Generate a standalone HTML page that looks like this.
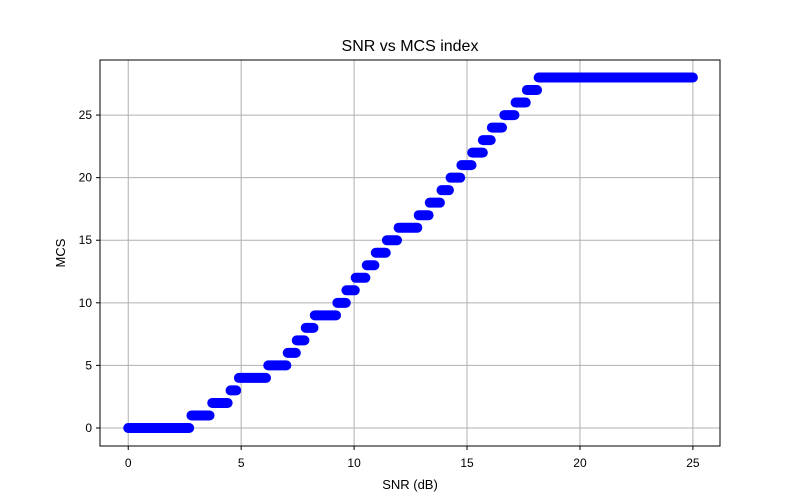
<!DOCTYPE html>
<html><head><meta charset="utf-8"><style>body{margin:0;background:#fff}svg{display:block;font-family:"Liberation Sans","DejaVu Sans",sans-serif}</style></head>
<body>
<svg id="chart" width="800" height="500" viewBox="0 0 800 500"></svg>
<script>
const mcsLevels=[0,1,2,3,4,5,6,7,8,9,10,11,12,13,14,15,16,17,18,19,20,21,22,23,24,25,26,27,28];
const snrStart=[0,2.8,3.72,4.53,4.9,6.2,7.06,7.46,7.86,8.26,9.26,9.66,10.07,10.56,10.96,11.45,11.97,12.86,13.35,13.87,14.27,14.75,15.23,15.7,16.1,16.65,17.15,17.65,18.17];
const snrEnd=[2.7,3.6,4.4,4.78,6.1,7.0,7.42,7.8,8.2,9.2,9.63,10.03,10.5,10.9,11.4,11.9,12.8,13.3,13.8,14.2,14.7,15.2,15.7,16.05,16.55,17.1,17.6,18.1,25];
const xTicks=[0,5,10,15,20,25];
const yTicks=[0,5,10,15,20,25];
const L=100,R=720,T=60,B=446;
const xMin=-1.25,xMax=26.2,yMin=-1.44,yMax=29.4;
const X=v=>L+(v-xMin)/(xMax-xMin)*(R-L);
const Y=v=>B-(v-yMin)/(yMax-yMin)*(B-T);
const svg=document.getElementById('chart');
const NS='http://www.w3.org/2000/svg';
function mk(tag,attrs,parent){const e=document.createElementNS(NS,tag);for(const k in attrs)e.setAttribute(k,attrs[k]);(parent||svg).appendChild(e);return e;}
const grid=mk('g',{});


xTicks.forEach(t=>{
 const l=mk('line',{x1:X(t),x2:X(t),y1:T,y2:B,stroke:'#b0b0b0','stroke-width':1},grid);
 
 
 const tk=mk('line',{x1:X(t),x2:X(t),y1:B,y2:B+4,stroke:'#000'});
 
 
 const tx=mk('text',{x:X(t),y:B+21,'text-anchor':'middle','font-size':12});
 tx.textContent=t;
 
 
});
yTicks.forEach(t=>{
 const l=mk('line',{x1:L,x2:R,y1:Y(t),y2:Y(t),stroke:'#b0b0b0','stroke-width':1},grid);
 
 
 const tk=mk('line',{x1:L-4,x2:L,y1:Y(t),y2:Y(t),stroke:'#000'});
 
 
 const tx=mk('text',{x:L-8,y:Y(t)+4,'text-anchor':'end','font-size':12});
 tx.textContent=t;
 
 
});
const series=mk('g',{});


mcsLevels.forEach((m,i)=>{
 const s=mk('line',{x1:X(snrStart[i]),x2:X(snrEnd[i]),y1:Y(m),y2:Y(m),stroke:'#0000ff','stroke-width':10,'stroke-linecap':'round'},series);
 
 
});
const fr=mk('rect',{x:L,y:T,width:R-L,height:B-T,fill:'none',stroke:'#000','stroke-width':1});


const title=mk('text',{x:(L+R)/2,y:51,'text-anchor':'middle','font-size':16});
title.textContent='SNR vs MCS index';


const xl=mk('text',{x:(L+R)/2,y:489,'text-anchor':'middle','font-size':13});
xl.textContent='SNR (dB)';


const yl=mk('text',{x:0,y:0,'text-anchor':'middle','font-size':13,transform:'translate(65,'+((T+B)/2)+') rotate(-90)'});
yl.textContent='MCS';


</script>
</body></html>
